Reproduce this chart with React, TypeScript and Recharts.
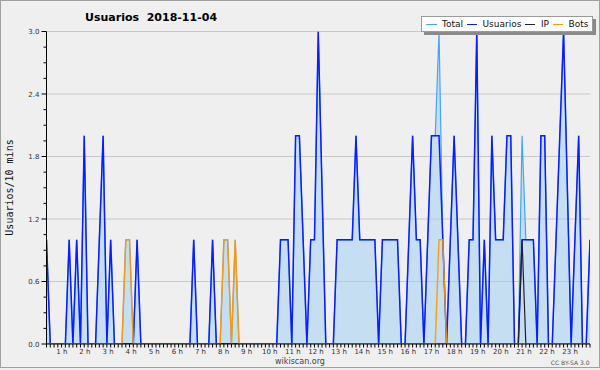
import React from 'react';
import { ComposedChart, Area, Line, XAxis, YAxis, CartesianGrid, Legend } from 'recharts';

// Values every 10 minutes, index 0 = 00:00 ... 144 = 24:00
const usuarios = [
  1, 0, 0, 0, 0, 0, 1, 0, 1, 0,
  2, 0, 0, 0, 1, 2, 0, 1, 0, 0,
  0, 0, 0, 0, 1, 0, 0, 0, 0, 0,
  0, 0, 0, 0, 0, 0, 0, 0, 0, 1,
  0, 0, 0, 0, 1, 0, 0, 0, 0, 0,
  0, 0, 0, 0, 0, 0, 0, 0, 0, 0,
  0, 0, 1, 1, 1, 0, 2, 2, 1, 0,
  1, 1, 3, 1.5, 0, 0, 0, 1, 1, 1,
  1, 1, 2, 1, 1, 1, 1, 1, 0, 1,
  1, 1, 1, 1, 0, 0, 1, 2, 1, 1,
  0, 1, 2, 2, 2, 1, 0, 1, 2, 1,
  0, 0, 1, 1, 3, 0, 1, 0, 2, 1,
  1, 1, 2, 2, 0, 0, 1, 1, 1, 1,
  0, 2, 2, 0, 0, 1, 2, 3, 1.5, 0,
  1, 2, 0, 0, 1,
];

const total = [
  1, 0, 0, 0, 0, 0, 1, 0, 1, 0,
  2, 0, 0, 0, 1, 2, 0, 1, 0, 0,
  0, 1, 1, 0, 1, 0, 0, 0, 0, 0,
  0, 0, 0, 0, 0, 0, 0, 0, 0, 1,
  0, 0, 0, 0, 1, 0, 0, 1, 1, 0,
  1, 0, 0, 0, 0, 0, 0, 0, 0, 0,
  0, 0, 1, 1, 1, 0, 2, 2, 1, 0,
  1, 1, 3, 1.5, 0, 0, 0, 1, 1, 1,
  1, 1, 2, 1, 1, 1, 1, 1, 0, 1,
  1, 1, 1, 1, 0, 0, 1, 2, 1, 1,
  0, 1, 2, 2, 3, 1, 0, 1, 2, 1,
  0, 0, 1, 1, 3, 0, 1, 0, 2, 1,
  1, 1, 2, 2, 0, 0, 2, 1, 1, 1,
  0, 2, 2, 0, 0, 1, 2, 3, 1.5, 0,
  1, 2, 0, 0, 1,
];

const ip = [
  0, 0, 0, 0, 0, 0, 0, 0, 0, 0,
  0, 0, 0, 0, 0, 0, 0, 0, 0, 0,
  0, 0, 0, 0, 0, 0, 0, 0, 0, 0,
  0, 0, 0, 0, 0, 0, 0, 0, 0, 0,
  0, 0, 0, 0, 0, 0, 0, 0, 0, 0,
  0, 0, 0, 0, 0, 0, 0, 0, 0, 0,
  0, 0, 0, 0, 0, 0, 0, 0, 0, 0,
  0, 0, 0, 0, 0, 0, 0, 0, 0, 0,
  0, 0, 0, 0, 0, 0, 0, 0, 0, 0,
  0, 0, 0, 0, 0, 0, 0, 0, 0, 0,
  0, 0, 0, 0, 0, 0, 0, 0, 0, 0,
  0, 0, 0, 0, 0, 0, 0, 0, 0, 0,
  0, 0, 0, 0, 0, 0, 1, 0, 0, 0,
  0, 0, 0, 0, 0, 0, 0, 0, 0, 0,
  0, 0, 0, 0, 0,
];

const bots = [
  0, 0, 0, 0, 0, 0, 0, 0, 0, 0,
  0, 0, 0, 0, 0, 0, 0, 0, 0, 0,
  0, 1, 1, 0, 0, 0, 0, 0, 0, 0,
  0, 0, 0, 0, 0, 0, 0, 0, 0, 0,
  0, 0, 0, 0, 0, 0, 0, 1, 1, 0,
  1, 0, 0, 0, 0, 0, 0, 0, 0, 0,
  0, 0, 0, 0, 0, 0, 0, 0, 0, 0,
  0, 0, 0, 0, 0, 0, 0, 0, 0, 0,
  0, 0, 0, 0, 0, 0, 0, 0, 0, 0,
  0, 0, 0, 0, 0, 0, 0, 0, 0, 0,
  0, 0, 0, 0, 1, 1, 0, 0, 0, 0,
  0, 0, 0, 0, 0, 0, 0, 0, 0, 0,
  0, 0, 0, 0, 0, 0, 0, 0, 0, 0,
  0, 0, 0, 0, 0, 0, 0, 0, 0, 0,
  0, 0, 0, 0, 0,
];

const hourLabels = [
  '1 h', '2 h', '3 h', '4 h', '5 h', '6 h', '7 h', '8 h', '9 h', '10 h', '11 h', '12 h',
  '13 h', '14 h', '15 h', '16 h', '17 h', '18 h', '19 h', '20 h', '21 h', '22 h', '23 h',
];

const yMajor = [0, 0.6, 1.2, 1.8, 2.4, 3.0];
const yMajorLabels = ['0.0', '0.6', '1.2', '1.8', '2.4', '3.0'];
const yMinor = [0.15, 0.3, 0.45, 0.75, 0.9, 1.05, 1.35, 1.5, 1.65, 1.95, 2.1, 2.25, 2.55, 2.7, 2.85];
const gridValues = [0.6, 1.2, 1.8, 2.4, 3.0];

const seriesNames = ['Total', 'Usuarios', 'IP', 'Bots'];
const seriesColors = ['#45a5f5', '#0b1dff', '#222222', '#ff9a00'];

const data = usuarios.map((u, i) => ({
  t: i,
  total: total[i],
  usuarios: u,
  ip: ip[i],
  bots: bots[i],
}));

const xTicks = data.map((d) => d.t);
const yTicks = [...yMajor, ...yMinor].sort((a, b) => a - b);

const FONT = '"DejaVu Sans", Verdana, sans-serif';

const XTick = (props: any) => {
  const { x, y, payload } = props;
  const v = payload.value as number;
  const isHour = v % 6 === 0;
  const n = v / 6;
  const label = isHour && n >= 1 && n <= 23 ? hourLabels[n - 1] : null;
  return (
    <g>
      <line x1={x} y1={y} x2={x} y2={y + 3.5} stroke="#000" strokeWidth={1} />
      {label && (
        <text
          x={x - 7.8 + 0.46 * n}
          y={y + 9.5}
          textAnchor="middle"
          fontFamily={FONT}
          fontSize={7}
          fill="#333"
        >
          {label}
        </text>
      )}
    </g>
  );
};

const YTick = (props: any) => {
  const { x, y, payload } = props;
  const v = payload.value as number;
  const k = yMajor.indexOf(v);
  const major = k >= 0;
  return (
    <g>
      <line x1={x - (major ? 5 : 3)} y1={y} x2={x} y2={y} stroke="#000" strokeWidth={1} />
      {major && (
        <text x={x - 7} y={y + 2.5} textAnchor="end" fontFamily={FONT} fontSize={7} fill="#333">
          {yMajorLabels[k]}
        </text>
      )}
    </g>
  );
};

const LegendBox = () => (
  <div
    style={{
      width: 172,
      height: 16,
      boxSizing: 'border-box',
      background: '#fff',
      border: '1px solid #9a9a9a',
      boxShadow: '3px 3px 0 #8a8a8a',
      display: 'flex',
      alignItems: 'center',
      paddingLeft: 4,
      fontFamily: FONT,
      fontSize: 9,
      color: '#111',
      whiteSpace: 'nowrap',
    }}
  >
    {seriesNames.map((name, i) => (
      <span key={name} style={{ display: 'flex', alignItems: 'center', marginRight: 3.5 }}>
        <span
          style={{
            display: 'inline-block',
            width: 10.5,
            height: 0,
            borderTop: `1px solid ${seriesColors[i]}`,
            marginRight: 5.5,
          }}
        />
        {name}
      </span>
    ))}
  </div>
);

export default function App() {
  return (
    <div
      style={{
        position: 'absolute',
        left: 0,
        top: 0,
        width: 600,
        height: 370,
        background: '#efeff0',
        overflow: 'hidden',
      }}
    >
      <ComposedChart
        width={600}
        height={370}
        data={data}
        margin={{ top: 31.5, right: 10, bottom: 0, left: 0 }}
      >
        <CartesianGrid
          horizontal={true}
          vertical={false}
          horizontalValues={gridValues}
          stroke="#c8c8c8"
          strokeWidth={1}
        />
        <XAxis
          dataKey="t"
          type="number"
          domain={[0, 144]}
          ticks={xTicks}
          interval={0}
          tickSize={0}
          tickMargin={0}
          tickLine={false}
          tick={XTick}
          height={26}
          axisLine={{ stroke: '#000', strokeWidth: 1 }}
          allowDataOverflow
        />
        <YAxis
          type="number"
          domain={[0, 3]}
          ticks={yTicks}
          interval={0}
          tickSize={0}
          tickMargin={0}
          tickLine={false}
          tick={YTick}
          width={46.5}
          axisLine={{ stroke: '#000', strokeWidth: 1 }}
          allowDataOverflow
        />
        <Legend
          layout="horizontal"
          verticalAlign="middle"
          align="center"
          content={LegendBox}
          wrapperStyle={{ position: 'absolute', left: 421, top: 16, width: 172, height: 16 }}
        />
        <Area
          type="linear"
          dataKey="total"
          name={seriesNames[0]}
          stroke={seriesColors[0]}
          strokeWidth={1.2}
          fill="#9bcdf3"
          fillOpacity={0.5}
          dot={false}
          activeDot={false}
          isAnimationActive={false}
        />
        <Line
          type="linear"
          dataKey="usuarios"
          name={seriesNames[1]}
          stroke={seriesColors[1]}
          strokeWidth={1.5}
          dot={false}
          activeDot={false}
          isAnimationActive={false}
        />
        <Line
          type="linear"
          dataKey="ip"
          name={seriesNames[2]}
          stroke={seriesColors[2]}
          strokeWidth={1.2}
          dot={false}
          activeDot={false}
          isAnimationActive={false}
        />
        <Line
          type="linear"
          dataKey="bots"
          name={seriesNames[3]}
          stroke={seriesColors[3]}
          strokeWidth={1.5}
          strokeOpacity={0.9}
          dot={false}
          activeDot={false}
          isAnimationActive={false}
        />
      </ComposedChart>
      <svg
        width={600}
        height={370}
        style={{ position: 'absolute', left: 0, top: 0, pointerEvents: 'none' }}
      >
        <rect x={0.5} y={0.5} width={599} height={367} fill="none" stroke="#a0a0a0" strokeWidth={1} />
        <text
          x={85}
          y={20.5}
          fontFamily={FONT}
          fontWeight="bold"
          fontSize={11}
          fill="#000"
          style={{ whiteSpace: 'pre' }}
        >
          {'Usuarios  2018-11-04'}
        </text>
        <text
          transform="translate(12.5,187.5) rotate(-90)"
          textAnchor="middle"
          fontFamily='"DejaVu Sans Mono", monospace'
          fontSize={10}
          fill="#111"
        >
          Usuarios/10 mins
        </text>
        <text x={300} y={364} textAnchor="middle" fontFamily={FONT} fontSize={8} fill="#444">
          wikiscan.org
        </text>
        <text x={589.5} y={365} textAnchor="end" fontFamily={FONT} fontSize={6} fill="#555">
          CC BY-SA 3.0
        </text>
      </svg>
    </div>
  );
}
